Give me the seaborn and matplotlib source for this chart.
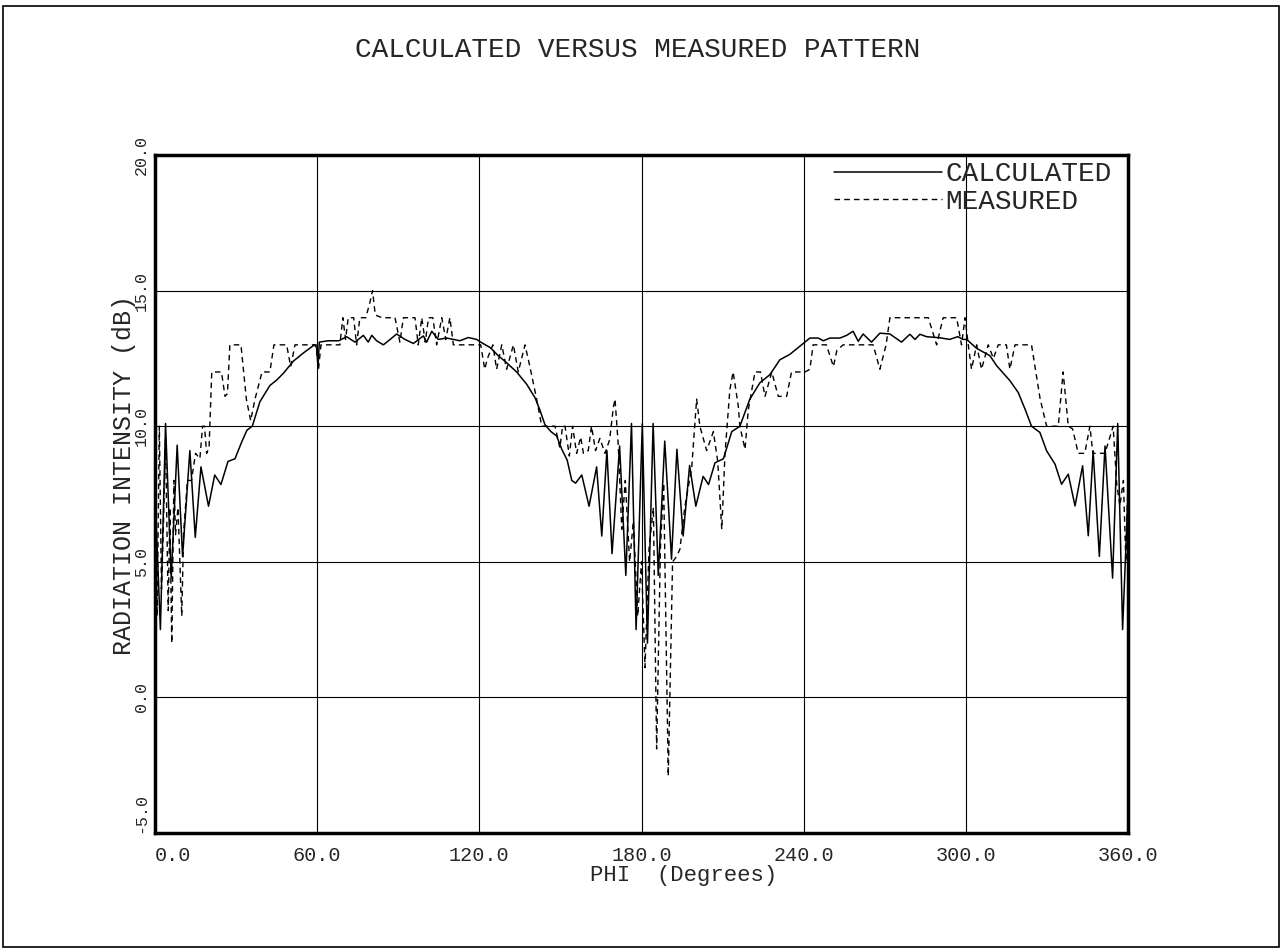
import numpy as np
import pandas as pd
import seaborn as sns
import matplotlib.pyplot as plt
from matplotlib.patches import Rectangle
from matplotlib.ticker import MultipleLocator

sns.set_style("white")
plt.rcParams['font.family'] = ['Liberation Mono', 'DejaVu Sans Mono']

# calculated pattern (solid line)
phi_calc = [0.0, 2.0, 3.9, 6.0, 8.2, 10.2, 12.9, 14.9, 17.0, 19.8, 22.1, 24.4, 27.0, 29.6,
            32.0, 34.0, 36.0, 38.8, 42.5, 45.0, 47.5, 51.2, 54.9, 59.0, 59.8, 60.3, 60.8,
            64.0, 68.0, 70.9, 74.0, 77.1, 78.9, 80.2, 82.0, 84.5, 87.0, 89.4, 92.5, 95.6,
            99.3, 100.5, 102.4, 104.8, 107.9, 110.5, 112.8, 115.9, 119.0, 120.5, 124.0,
            127.0, 130.0, 133.8, 137.5, 140.6, 142.4, 144.3, 146.5, 148.6, 150.5, 152.5,
            154.2, 155.6, 157.9, 160.6, 163.4, 165.3, 167.2, 169.1, 171.9, 174.2, 176.3,
            178.0, 180.3, 182.2, 184.3, 186.2, 188.6, 191.1, 193.1, 195.4, 197.8, 200.1,
            202.8, 204.8, 207.2, 210.3, 213.4, 216.4, 220.1, 223.8, 227.5, 231.2, 234.9,
            238.6, 240.5, 242.3, 245.4, 247.3, 249.7, 253.4, 255.9, 258.3, 260.2, 262.0,
            265.1, 268.2, 271.9, 276.2, 279.3, 281.2, 283.0, 285.5, 290.4, 294.0, 297.0,
            299.0, 300.3, 304.0, 308.9, 311.4, 316.3, 319.4, 321.9, 324.3, 327.4, 329.9,
            333.0, 335.4, 337.9, 340.4, 343.2, 345.3, 347.1, 349.4, 351.5, 354.3, 356.2,
            358.0, 360.0]
calc_db = [7.5, 2.5, 10.1, 4.4, 9.3, 5.2, 9.1, 5.9, 8.5, 7.05, 8.2, 7.85, 8.7, 8.8,
           9.4, 9.85, 10.0, 10.9, 11.5, 11.7, 11.95, 12.4, 12.7, 13.0, 12.9, 12.2, 13.1,
           13.15, 13.15, 13.3, 13.1, 13.35, 13.1, 13.35, 13.15, 13.0, 13.2, 13.4, 13.2, 13.05,
           13.33, 13.1, 13.5, 13.2, 13.25, 13.2, 13.15, 13.27, 13.2, 13.1, 12.9,
           12.6, 12.35, 12.0, 11.55, 11.05, 10.6, 10.05, 9.8, 9.64, 9.15, 8.75,
           8.0, 7.9, 8.2, 7.05, 8.5, 5.95, 9.1, 5.3, 9.27, 4.5, 10.1,
           2.5, 10.1, 2.0, 10.1, 4.5, 9.45, 5.1, 9.15, 5.95, 8.55, 7.05,
           8.15, 7.85, 8.65, 8.8, 9.8, 10.0, 11.0, 11.6, 11.9, 12.45, 12.65,
           12.95, 13.1, 13.25, 13.25, 13.15, 13.25, 13.25, 13.35, 13.5, 13.13, 13.4,
           13.1, 13.43, 13.4, 13.1, 13.39, 13.2, 13.39, 13.3, 13.26, 13.2, 13.3,
           13.2, 13.2, 12.87, 12.6, 12.23, 11.68, 11.24, 10.63, 10.0, 9.77, 9.09,
           8.6, 7.86, 8.23, 7.06, 8.54, 5.96, 9.09, 5.2, 9.27, 4.4, 10.1,
           2.5, 7.5]

# measured pattern (dashed line)
phi_meas = [0.0, 0.8, 1.6, 2.4, 3.1, 3.9, 4.9, 5.5, 6.2, 7.0, 7.6, 8.5, 9.2, 9.9, 10.6,
            12.0, 13.5, 15.0, 16.6, 17.6, 18.3, 19.1, 20.0, 21.0, 23.0, 24.6, 25.9, 26.8,
            27.7, 31.8, 33.8, 35.4, 37.0, 39.6, 42.5, 44.0, 48.7, 50.2, 51.8, 58.6, 59.6,
            60.5, 61.4, 68.4, 69.5, 70.5, 71.5, 73.5, 74.6, 75.8, 78.0, 79.6, 80.5, 81.5,
            84.0, 88.8, 90.6, 91.9, 96.2, 97.4, 98.7, 100.0, 101.2, 102.8, 104.2, 106.1,
            107.6, 109.1, 110.4, 119.0, 120.5, 122.0, 123.0, 125.0, 126.4, 128.3, 130.1,
            132.6, 134.4, 136.9, 138.7, 141.2, 143.1, 148.0, 149.8, 150.8, 151.7, 153.3,
            154.5, 156.0, 157.5, 158.5, 160.3, 161.5, 163.0, 164.6, 166.5, 168.2, 169.6,
            170.2, 171.4, 172.7, 174.0, 175.6, 177.0, 178.6, 180.0, 181.3, 182.8, 184.4,
            185.6, 187.0, 188.2, 189.9, 191.5, 193.0, 194.2, 196.0, 198.6, 200.4, 201.6,
            204.1, 206.6, 208.2, 209.7, 210.9, 212.7, 213.9, 215.8, 216.4, 218.3, 219.5,
            222.0, 224.0, 225.7, 228.2, 230.6, 233.7, 235.5, 240.5, 242.3, 243.5, 248.4,
            251.0, 252.3, 254.6, 265.7, 268.2, 270.5, 271.9, 286.1, 289.2, 291.6, 296.6,
            298.4, 299.7, 300.9, 302.1, 304.0, 305.8, 308.3, 310.2, 312.0, 315.0, 316.3,
            318.2, 324.3, 327.5, 329.9, 334.2, 336.0, 337.9, 339.5, 341.6, 344.0, 345.9,
            347.0, 351.5, 353.0, 354.5, 355.8, 357.0, 358.3, 359.2, 360.0]
meas_db = [8.0, 3.0, 10.0, 4.0, 6.3, 9.5, 3.2, 7.0, 2.0, 8.0, 6.0, 7.0, 5.0, 3.0, 6.1,
           8.0, 8.0, 9.0, 8.8, 10.0, 10.0, 9.0, 9.2, 12.0, 12.0, 12.0, 11.1, 11.2,
           13.0, 13.0, 11.0, 10.2, 11.0, 12.0, 12.0, 13.0, 13.0, 12.2, 13.0, 13.0, 13.0,
           12.1, 13.0, 13.0, 14.0, 13.2, 14.0, 14.0, 13.0, 14.0, 14.0, 14.6, 15.0, 14.1,
           14.0, 14.0, 13.1, 14.0, 14.0, 13.0, 14.0, 13.1, 14.0, 14.0, 13.0, 14.0,
           13.2, 14.0, 13.0, 13.0, 13.0, 12.1, 12.5, 13.0, 12.1, 13.0, 12.1,
           13.0, 12.0, 13.0, 12.2, 11.0, 10.0, 10.0, 9.2, 10.0, 10.0, 8.9,
           10.0, 9.0, 9.6, 9.0, 9.1, 10.0, 9.1, 9.55, 9.0, 9.5, 10.7,
           11.0, 9.3, 6.2, 8.0, 5.0, 6.5, 3.0, 5.0, 1.1, 5.5, 7.0,
           -1.9, 5.5, 7.9, -2.9, 5.0, 5.2, 5.46, 7.0, 8.5, 11.0, 10.0,
           9.1, 9.8, 8.7, 6.2, 9.0, 11.36, 12.0, 10.75, 10.0, 9.15, 10.6,
           12.0, 12.0, 11.1, 12.0, 11.1, 11.1, 12.0, 12.0, 12.1, 13.0, 13.0,
           12.2, 12.8, 13.0, 13.0, 12.1, 13.0, 14.0, 14.0, 13.0, 14.0, 14.0,
           13.0, 14.0, 13.0, 12.1, 13.0, 12.1, 13.0, 12.5, 13.0, 13.0, 12.1,
           13.0, 13.0, 11.0, 10.0, 10.0, 12.0, 10.0, 9.9, 9.0, 9.0, 10.0,
           9.0, 9.0, 9.5, 10.0, 7.9, 7.06, 8.0, 5.0, 8.0]

# axis ticks
phi_ticks = [0, 60, 120, 180, 240, 300, 360]
db_ticks = [-5, 0, 5, 10, 15, 20]

calc_df = pd.DataFrame({'phi': phi_calc, 'db': calc_db})
meas_df = pd.DataFrame({'phi': phi_meas, 'db': meas_db})

fig = plt.figure(figsize=(12.83, 9.5), dpi=100)
ax = fig.add_axes([155 / 1283, 1 - 833 / 950, 973 / 1283, 678 / 950])

sns.lineplot(data=calc_df, x='phi', y='db', ax=ax, color='black', lw=1.1,
             estimator=None, sort=False, label='CALCULATED')
sns.lineplot(data=meas_df, x='phi', y='db', ax=ax, color='black', lw=1.0,
             estimator=None, sort=False, label='MEASURED', linestyle=(0, (4, 3)))

ax.set_xlim(0, 360)
ax.set_ylim(-5, 20)
ax.set_xticks(phi_ticks, [f'{v:.1f}' for v in phi_ticks], fontsize=14.5)
ax.set_yticks(db_ticks, [f'{v:.1f}' for v in db_ticks], fontsize=12,
              rotation=90, va='center')
ax.xaxis.set_minor_locator(MultipleLocator(10))
ax.yaxis.set_minor_locator(MultipleLocator(1))
ax.grid(True, which='major', color='black', lw=0.8)
ax.tick_params(which='major', direction='inout', length=7, width=1)
ax.tick_params(axis='x', which='major', pad=6)
ax.tick_params(axis='y', which='major', pad=1)
ax.tick_params(which='minor', direction='in', length=5, width=0.8)
ax.set_xlabel('')
ax.set_ylabel('')
for s in ax.spines.values():
    s.set_linewidth(2.5)
    s.set_color('black')

ax.legend(loc='upper right', bbox_to_anchor=(1.0, 1.015), frameon=False, fontsize=20,
          handlelength=3.9, handletextpad=0.1, labelspacing=0.05, borderaxespad=0.2)

fig.text(0.497, 1 - 50 / 950, 'CALCULATED VERSUS MEASURED PATTERN',
         ha='center', va='center', fontsize=20)
fig.text(684 / 1283, 1 - 876 / 950, 'PHI  (Degrees)', ha='center', va='center', fontsize=16)
fig.text(124 / 1283, 1 - 475 / 950, 'RADIATION INTENSITY (dB)', ha='center', va='center',
         rotation=90, fontsize=18)

# plotter page frame
fig.patches.append(Rectangle((0.002, 0.003), 0.995, 0.991, transform=fig.transFigure,
                             fill=False, lw=1.2, edgecolor='black'))

# first x label sits just right of the corner, the bottom y label just above it
ax.get_xticklabels()[0].set_horizontalalignment('left')
ax.get_yticklabels()[0].set_verticalalignment('bottom')

plt.savefig('out.png', dpi=100)
plt.close()
